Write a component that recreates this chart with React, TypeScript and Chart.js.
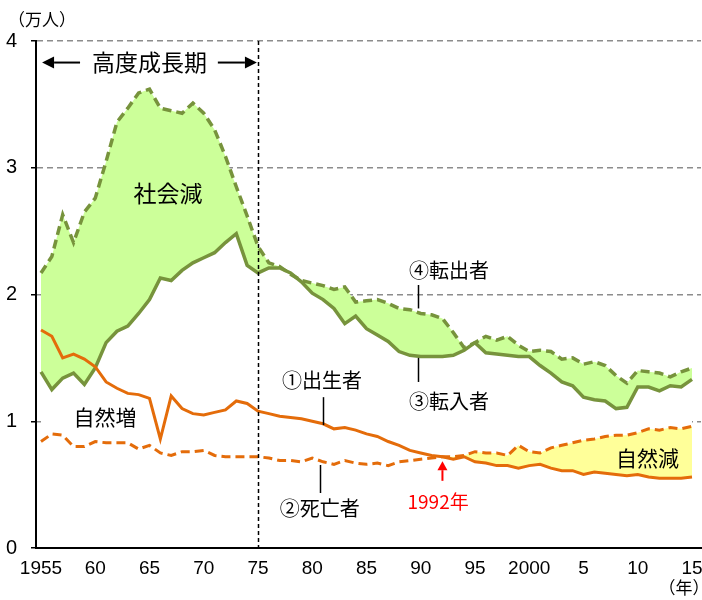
import React, { useEffect, useRef } from "react";
import { Chart, registerables } from "chart.js";

Chart.register(...registerables);

// ---- data (万人) ----
const years = [
  1955, 1956, 1957, 1958, 1959, 1960, 1961, 1962, 1963, 1964,
  1965, 1966, 1967, 1968, 1969, 1970, 1971, 1972, 1973, 1974,
  1975, 1976, 1977, 1978, 1979, 1980, 1981, 1982, 1983, 1984,
  1985, 1986, 1987, 1988, 1989, 1990, 1991, 1992, 1993, 1994,
  1995, 1996, 1997, 1998, 1999, 2000, 2001, 2002, 2003, 2004,
  2005, 2006, 2007, 2008, 2009, 2010, 2011, 2012, 2013, 2014, 2015,
];

// ①出生者
const births = [
  1.72, 1.67, 1.50, 1.53, 1.49, 1.43, 1.31, 1.26, 1.22, 1.21,
  1.18, 0.86, 1.20, 1.10, 1.06, 1.05, 1.07, 1.09, 1.16, 1.14,
  1.08, 1.06, 1.04, 1.03, 1.02, 1.00, 0.98, 0.94, 0.95, 0.93,
  0.90, 0.88, 0.84, 0.81, 0.77, 0.75, 0.73, 0.72, 0.70, 0.72,
  0.68, 0.67, 0.65, 0.65, 0.63, 0.65, 0.66, 0.63, 0.61, 0.61,
  0.58, 0.60, 0.59, 0.58, 0.57, 0.58, 0.56, 0.55, 0.55, 0.55, 0.56,
];

// ②死亡者
const deaths = [
  0.84, 0.90, 0.89, 0.80, 0.80, 0.84, 0.83, 0.83, 0.83, 0.78,
  0.81, 0.75, 0.73, 0.76, 0.76, 0.77, 0.73, 0.72, 0.72, 0.72,
  0.72, 0.71, 0.69, 0.69, 0.68, 0.71, 0.68, 0.66, 0.69, 0.67,
  0.66, 0.67, 0.65, 0.68, 0.69, 0.70, 0.71, 0.72, 0.72, 0.73,
  0.76, 0.75, 0.75, 0.73, 0.81, 0.76, 0.75, 0.79, 0.81, 0.83,
  0.85, 0.86, 0.88, 0.89, 0.89, 0.91, 0.94, 0.93, 0.95, 0.94, 0.96,
];

// ③転入者
const inMigrants = [
  1.39, 1.25, 1.34, 1.38, 1.29, 1.42, 1.62, 1.71, 1.75, 1.85,
  1.96, 2.13, 2.11, 2.19, 2.25, 2.29, 2.33, 2.41, 2.48, 2.23,
  2.17, 2.21, 2.21, 2.17, 2.10, 2.01, 1.96, 1.89, 1.77, 1.83,
  1.73, 1.68, 1.63, 1.55, 1.52, 1.51, 1.51, 1.51, 1.52, 1.56,
  1.62, 1.54, 1.53, 1.52, 1.51, 1.51, 1.44, 1.38, 1.31, 1.28,
  1.19, 1.17, 1.16, 1.10, 1.11, 1.27, 1.27, 1.24, 1.28, 1.27, 1.33,
];

// ④転出者
const outMigrants = [
  2.17, 2.30, 2.63, 2.41, 2.65, 2.76, 3.05, 3.36, 3.47, 3.59,
  3.62, 3.47, 3.45, 3.43, 3.51, 3.43, 3.30, 3.09, 2.85, 2.62,
  2.38, 2.25, 2.22, 2.16, 2.11, 2.09, 2.07, 2.04, 2.06, 1.94,
  1.95, 1.96, 1.93, 1.89, 1.88, 1.85, 1.84, 1.81, 1.70, 1.58,
  1.62, 1.67, 1.64, 1.67, 1.60, 1.55, 1.56, 1.55, 1.49, 1.50,
  1.45, 1.47, 1.44, 1.36, 1.30, 1.40, 1.39, 1.38, 1.35, 1.39, 1.42,
];

const xTickValues = [1955, 1960, 1965, 1970, 1975, 1980, 1985, 1990, 1995, 2000, 2005, 2010, 2015];
const xTickLabels = ["1955", "60", "65", "70", "75", "80", "85", "90", "95", "2000", "5", "10", "15"];
const yTickValues = [0, 1, 2, 3, 4];

// text annotations in data coordinates (year, 万人)
const textNotes = [
  { text: "高度成長期", x: 1965, y: 3.83, size: 23, color: "#000000" },
  { text: "社会減", x: 1966.7, y: 2.8, size: 23, color: "#000000" },
  { text: "自然増", x: 1960.9, y: 1.03, size: 21, color: "#000000" },
  { text: "④転出者", x: 1992.6, y: 2.19, size: 20, color: "#000000" },
  { text: "③転入者", x: 1992.6, y: 1.16, size: 20, color: "#000000" },
  { text: "①出生者", x: 1980.9, y: 1.325, size: 20, color: "#000000" },
  { text: "②死亡者", x: 1980.7, y: 0.31, size: 20, color: "#000000" },
  { text: "1992年", x: 1991.6, y: 0.363, size: 19, color: "#FF0000" },
  { text: "自然減", x: 2010.9, y: 0.71, size: 21, color: "#000000" },
];

// leader lines: [year, from value, to value]
const leaders = [
  { x: 1989.75, y1: 2.075, y2: 1.89 },
  { x: 1989.75, y1: 1.5, y2: 1.31 },
  { x: 1981.0, y1: 1.19, y2: 0.97 },
  { x: 1980.7, y1: 0.655, y2: 0.434 },
];

const JP = "'Noto Sans CJK JP', 'Noto Sans', sans-serif";
const NUM = "'Liberation Sans', Arial, sans-serif";

const GREEN_LINE = "#77933C";
const GREEN_FILL = "#CCFF99";
const ORANGE = "#E46C0A";
const YELLOW_FILL = "#FFFF99";

function arrow(ctx: CanvasRenderingContext2D, x1: number, y1: number, x2: number, y2: number, color: string, lw: number, hl: number, hw: number) {
  const ang = Math.atan2(y2 - y1, x2 - x1);
  const bx = x2 - Math.cos(ang) * hl;
  const by = y2 - Math.sin(ang) * hl;
  ctx.strokeStyle = color;
  ctx.fillStyle = color;
  ctx.lineWidth = lw;
  ctx.setLineDash([]);
  ctx.beginPath();
  ctx.moveTo(x1, y1);
  ctx.lineTo(bx, by);
  ctx.stroke();
  ctx.beginPath();
  ctx.moveTo(x2, y2);
  ctx.lineTo(bx + Math.sin(ang) * hw, by - Math.cos(ang) * hw);
  ctx.lineTo(bx - Math.sin(ang) * hw, by + Math.cos(ang) * hw);
  ctx.closePath();
  ctx.fill();
}

const notesPlugin = {
  id: "notes",
  afterDatasetsDraw(chart: any) {
    const { ctx, chartArea, scales } = chart;
    const xs = scales.x;
    const ys = scales.y;
    const px = (v: number) => xs.getPixelForValue(v);
    const py = (v: number) => ys.getPixelForValue(v);
    ctx.save();

    // 1975 boundary
    ctx.strokeStyle = "#000000";
    ctx.lineWidth = 1.5;
    ctx.setLineDash([4, 3]);
    ctx.beginPath();
    ctx.moveTo(Math.round(px(1975)) + 0.5, py(4));
    ctx.lineTo(Math.round(px(1975)) + 0.5, py(0));
    ctx.stroke();

    // 高度成長期 arrows
    arrow(ctx, px(1958.6), py(3.83), px(1955.1), py(3.83), "#000000", 2, 12, 6);
    arrow(ctx, px(1971.3), py(3.83), px(1974.9), py(3.83), "#000000", 2, 12, 6);

    // leaders
    ctx.setLineDash([]);
    ctx.strokeStyle = "#000000";
    ctx.lineWidth = 1.5;
    for (const l of leaders) {
      ctx.beginPath();
      ctx.moveTo(Math.round(px(l.x)) + 0.5, py(l.y1));
      ctx.lineTo(Math.round(px(l.x)) + 0.5, py(l.y2));
      ctx.stroke();
    }

    // 1992 red arrow
    arrow(ctx, px(1992), py(0.53), px(1992), py(0.685), "#FF0000", 2, 9, 5);

    // texts
    ctx.textAlign = "center";
    ctx.textBaseline = "middle";
    for (const t of textNotes) {
      ctx.font = `${t.size}px ${JP}`;
      ctx.fillStyle = t.color;
      ctx.fillText(t.text, px(t.x), py(t.y));
    }

    // unit labels
    ctx.fillStyle = "#000000";
    ctx.font = `17px ${JP}`;
    ctx.fillText("（万人）", chartArea.left + 6, chartArea.top - 21);
    ctx.fillText("（年）", chartArea.right - 17, chartArea.bottom + 40);

    ctx.restore();
  },
};

export default function App() {
  const canvasRef = useRef<HTMLCanvasElement | null>(null);

  useEffect(() => {
    if (!canvasRef.current) return;
    const pts = (arr: number[]) => years.map((yr, i) => ({ x: yr, y: arr[i] }));
    const chart = new Chart(canvasRef.current, {
      type: "line",
      data: {
        datasets: [
          {
            label: "①出生者",
            data: pts(births),
            borderColor: ORANGE,
            borderWidth: 3,
            pointRadius: 0,
            tension: 0,
            fill: false,
          },
          {
            label: "②死亡者",
            data: pts(deaths),
            borderColor: ORANGE,
            borderWidth: 3,
            borderDash: [9, 5],
            pointRadius: 0,
            tension: 0,
            fill: { target: 0, above: YELLOW_FILL, below: "rgba(0,0,0,0)" },
          },
          {
            label: "③転入者",
            data: pts(inMigrants),
            borderColor: GREEN_LINE,
            borderWidth: 3.5,
            pointRadius: 0,
            tension: 0,
            fill: false,
          },
          {
            label: "④転出者",
            data: pts(outMigrants),
            borderColor: GREEN_LINE,
            borderWidth: 3.5,
            borderDash: [9, 5],
            pointRadius: 0,
            tension: 0,
            fill: { target: 2, above: GREEN_FILL, below: GREEN_FILL },
          },
          {
            label: "base",
            data: pts(inMigrants),
            borderColor: "rgba(0,0,0,0)",
            borderWidth: 0,
            backgroundColor: "#FFFFFF",
            pointRadius: 0,
            tension: 0,
            fill: "origin",
          },
        ],
      },
      options: {
        responsive: false,
        animation: false,
        events: [],
        layout: { padding: { top: 41, right: 1, bottom: 0, left: 0 } },
        plugins: {
          legend: { display: false },
          tooltip: { enabled: false },
        },
        scales: {
          x: {
            type: "linear",
            min: 1954.54,
            max: 2015.83,
            afterBuildTicks: (scale: any) => {
              scale.ticks = xTickValues.map((v) => ({ value: v }));
            },
            afterFit: (scale: any) => {
              scale.height = 52;
              scale.paddingLeft = 0;
              scale.paddingRight = 0;
            },
            grid: { display: false, drawTicks: false },
            border: { display: true, color: "#000000", width: 2, z: 1 },
            ticks: {
              autoSkip: false,
              maxRotation: 0,
              padding: 9,
              color: "#000000",
              font: { family: NUM, size: 19 },
              callback: (value: any) => {
                const i = xTickValues.indexOf(Number(value));
                return i >= 0 ? xTickLabels[i] : "";
              },
            },
          },
          y: {
            type: "linear",
            min: 0,
            max: 4,
            afterBuildTicks: (scale: any) => {
              scale.ticks = yTickValues.map((v) => ({ value: v }));
            },
            afterFit: (scale: any) => {
              scale.width = 36;
              scale.paddingTop = 0;
              scale.paddingBottom = 0;
            },
            grid: {
              color: "#8C8C8C",
              lineWidth: 1.5,
              drawTicks: true,
              tickLength: 5,
              tickColor: "#000000",
              tickWidth: 1.5,
              tickBorderDash: [],
            },
            border: { display: true, color: "#000000", width: 2, dash: [6, 4], z: 1 },
            ticks: {
              padding: 14,
              color: "#000000",
              font: { family: NUM, size: 20 },
              callback: (value: any) => String(value),
            },
          },
        },
      },
      plugins: [notesPlugin],
    } as any);
    return () => chart.destroy();
  }, []);

  return (
    <div style={{ position: "fixed", left: 0, top: 0, width: 702, height: 600, background: "#fff" }}>
      <canvas ref={canvasRef} width={702} height={600} style={{ display: "block", width: 702, height: 600 }} />
    </div>
  );
}
